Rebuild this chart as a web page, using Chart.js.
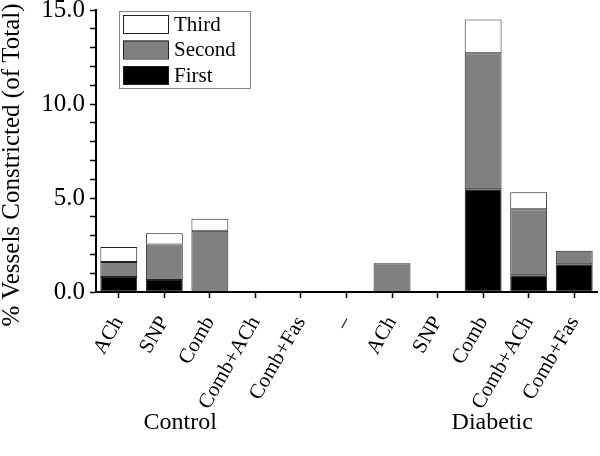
<!DOCTYPE html>
<html>
<head>
<meta charset="utf-8">
<script src="https://cdn.jsdelivr.net/npm/chart.js@4"></script>
<style>
  html, body { margin: 0; padding: 0; background: #fff; }
  #wrap { width: 600px; height: 456px; position: relative; }
</style>
</head>
<body>
<div id="wrap"><canvas id="chart"></canvas></div>
<script>
// Vessels constricted, stacked by order

const categories = ['ACh', 'SNP', 'Comb', 'Comb+ACh', 'Comb+Fas', '\u2013',
                    'ACh', 'SNP', 'Comb', 'Comb+ACh', 'Comb+Fas'];
const first  = [0.80, 0.64, 0,    0, 0, 0, 0,    0, 5.46, 0.89, 1.47];
const second = [0.80, 1.88, 3.26, 0, 0, 0, 1.53, 0, 7.24, 3.51, 0.73];
const third  = [0.80, 0.60, 0.64, 0, 0, 0, 0,    0, 1.80, 0.90, 0];
const groups = ['Control', 'Diabetic'];
const yTitle = '% Vessels Constricted (of Total)';

const yTicks = [0, 5, 10, 15];
const FONT = '"Liberation Serif", "Times New Roman", serif';

// --- Plugins ---

// legend box inside plot, top-left, reversed order
const boxLegend = {
  id: 'boxLegend',
  afterDraw(chart, args, opts) {
    const ctx = chart.ctx;
    const ds = chart.data.datasets.slice().reverse();
    ctx.save();
    ctx.strokeStyle = '#888';
    ctx.lineWidth = 1;
    ctx.strokeRect(opts.x + 0.5, opts.y + 0.5, opts.w, opts.h);
    ctx.font = `21px ${FONT}`;
    ctx.textBaseline = 'middle';
    ds.forEach((d, i) => {
      const y = opts.y + 4 + i * 25.5;
      ctx.fillStyle = d.backgroundColor;
      ctx.fillRect(opts.x + 4, y, 45, 18);
      ctx.strokeStyle = '#222';
      ctx.strokeRect(opts.x + 4.5, y + 0.5, 45, 18);
      ctx.fillStyle = '#000';
      ctx.fillText(d.label, opts.x + 55, y + 10);
    });
    ctx.restore();
  }
};

// group captions under the category labels + rotated y title
const extraText = {
  id: 'extraText',
  afterDraw(chart, args, opts) {
    const ctx = chart.ctx;
    const xs = chart.scales.x;
    ctx.save();
    ctx.font = `24px ${FONT}`;
    ctx.fillStyle = '#000';
    ctx.textAlign = 'center';
    ctx.textBaseline = 'middle';
    groups.forEach((g, i) => {
      const p = opts.at[i];
      const lo = Math.floor(p);
      const x = xs.getPixelForValue(lo) + (p - lo) * (xs.getPixelForValue(1) - xs.getPixelForValue(0));
      ctx.fillText(g, x, opts.y);
    });

    ctx.translate(opts.titleX, opts.titleY);
    ctx.rotate(-Math.PI / 2);
    ctx.font = `25px ${FONT}`;
    ctx.fillText(yTitle, 0, 0);
    ctx.restore();
  }
};

function bar(label, data, color) {
  return {
    label,
    data,
    backgroundColor: color,
    borderColor: '#222',
    borderWidth: 1,
    borderSkipped: false,
    barPercentage: 0.81,
    categoryPercentage: 1,
  };
}

new Chart(document.getElementById('chart'), {
  type: 'bar',
  data: {
    labels: categories,
    datasets: [
      bar('First', first, '#000000'),
      bar('Second', second, '#808080'),
      bar('Third', third, '#ffffff'),
    ],
  },
  plugins: [boxLegend, extraText],
  options: {
    responsive: true,
    maintainAspectRatio: false,
    animation: false,
    layout: { padding: { top: 10, right: 3, left: 0, bottom: 0 } },
    plugins: {
      legend: { display: false },
      tooltip: { enabled: false },
      boxLegend: { x: 119, y: 11, w: 131, h: 77 },
      extraText: { at: [1.35, 8.2], y: 423, titleX: 12, titleY: 165 },
    },
    scales: {
      x: {
        stacked: true,
        grid: { display: true, drawOnChartArea: false, offset: false, tickLength: 6, tickColor: '#000', tickWidth: 1.5 },
        border: { color: '#000', width: 2 },
        ticks: {
          color: '#000',
          font: { family: FONT, size: 21 },
          minRotation: 60,
          maxRotation: 60,
          autoSkip: false,
          padding: 14,
        },
        afterFit(s) { s.height = 164; s.paddingLeft = 0; s.paddingRight = 0; },
      },
      y: {
        stacked: true,
        min: 0,
        max: 15,
        grid: { display: true, drawOnChartArea: false, tickLength: 6, tickColor: '#000', tickWidth: 1.5 },
        border: { color: '#000', width: 2 },
        ticks: {
          stepSize: 1,
          autoSkip: false,
          color: '#000',
          font: { family: FONT, size: 25 },
          padding: 5,
          callback: v => (yTicks.includes(v) ? v.toFixed(1) : ''),
        },
        afterFit(s) { s.width = 96; s.paddingTop = 0; s.paddingBottom = 0; },
      },
    },
  },
});
</script>
</body>
</html>
